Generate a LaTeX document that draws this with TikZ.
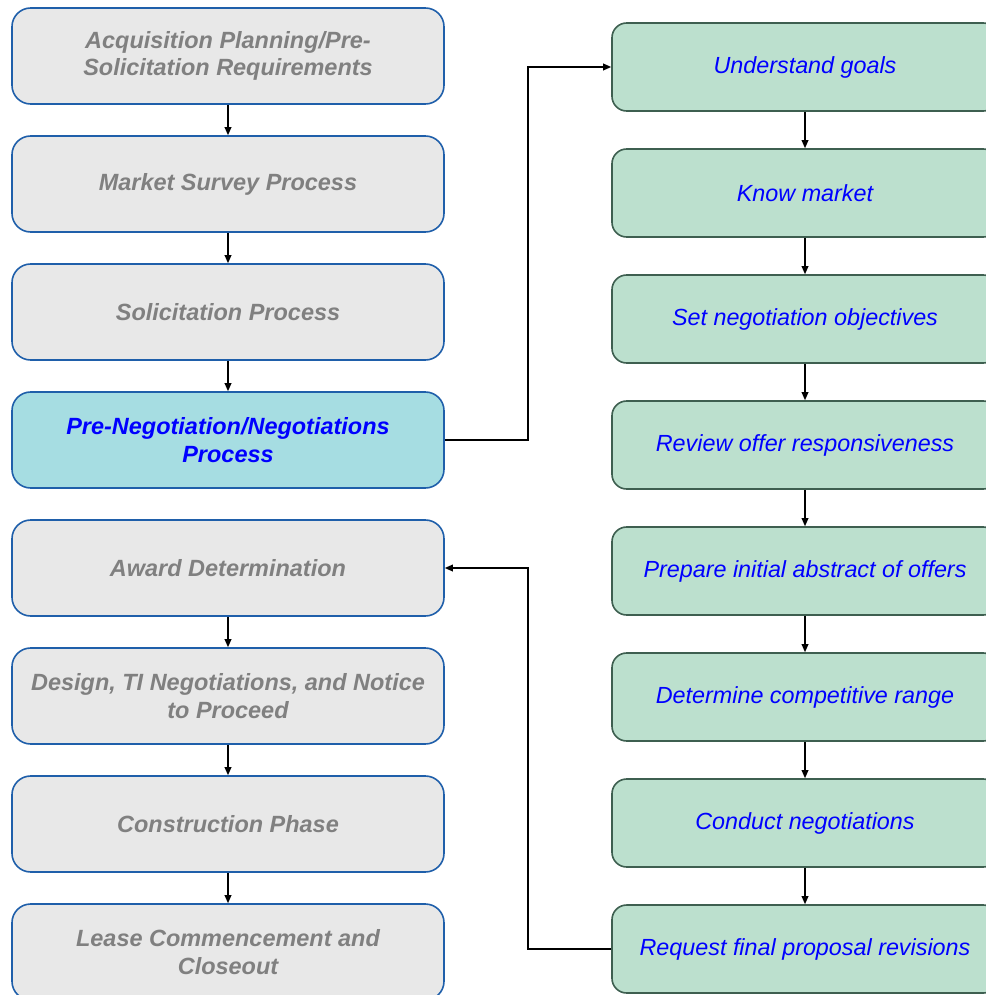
\documentclass[tikz,border=0pt]{standalone}
\usepackage{fontspec}
\setmainfont{Liberation Sans}
\usetikzlibrary{arrows.meta}

\definecolor{stepgray}{HTML}{E8E8E8}
\definecolor{stepedge}{HTML}{1F5FAA}
\definecolor{activefill}{HTML}{A6DDE2}
\definecolor{taskfill}{HTML}{BCE0CE}
\definecolor{taskedge}{HTML}{3E5F50}
\definecolor{steptext}{HTML}{808080}

\begin{document}
\begin{tikzpicture}[x=0.75pt, y=-0.75pt, >={Triangle[length=6pt,width=5pt]},
    stepbox/.style={draw=stepedge, line width=1.2pt, fill=stepgray, rounded corners=14pt,
        minimum width=324pt, minimum height=72pt, inner sep=0pt, align=center,
        text=steptext, font=\fontsize{17.6}{20.5}\selectfont\bfseries\itshape},
    activebox/.style={stepbox, fill=activefill, text=blue},
    taskbox/.style={draw=taskedge, line width=1.2pt, fill=taskfill, rounded corners=11pt,
        minimum width=289.5pt, minimum height=66pt, inner sep=0pt, align=center,
        text=blue, font=\fontsize{17.5}{21}\selectfont\itshape},
    link/.style={->, line width=1pt}]
    % Frame
    \useasboundingbox (0,0) rectangle (985,995);

    % Main process steps
    \node[stepbox] (plan) at (228,56) {Acquisition Planning/Pre-\\Solicitation Requirements};
    \node[stepbox] (survey) at (228,184) {Market Survey Process};
    \node[stepbox] (solicit) at (228,312) {Solicitation Process};
    \node[activebox] (negot) at (228,440) {Pre-Negotiation/Negotiations\\Process};
    \node[stepbox] (award) at (228,568) {Award Determination};
    \node[stepbox] (design) at (228,696) {Design, TI Negotiations, and Notice\\to Proceed};
    \node[stepbox] (build) at (228,824) {Construction Phase};
    \node[stepbox] (lease) at (228,952) {Lease Commencement and\\Closeout};

    % Negotiation tasks
    \node[taskbox] (goals) at (805,67) {Understand goals};
    \node[taskbox] (market) at (805,193) {Know market};
    \node[taskbox] (objectives) at (805,319) {Set negotiation objectives};
    \node[taskbox] (review) at (805,445) {Review offer responsiveness};
    \node[taskbox] (abstract) at (805,571) {Prepare initial abstract of offers};
    \node[taskbox] (range) at (805,697) {Determine competitive range};
    \node[taskbox] (conduct) at (805,823) {Conduct negotiations};
    \node[taskbox] (revise) at (805,949) {Request final proposal revisions};

    % Flow down each column
    \foreach \a/\b in {plan/survey, survey/solicit, solicit/negot,
        award/design, design/build, build/lease,
        goals/market, market/objectives, objectives/review, review/abstract,
        abstract/range, range/conduct, conduct/revise}
        \draw[link] (\a.south) -- (\b.north);

    % Out to the tasks and back
    \draw[link] (negot.east) -- (528,440) |- (goals.west);
    \draw[link] (revise.west) -- (528,949) |- (award.east);
\end{tikzpicture}
\end{document}
